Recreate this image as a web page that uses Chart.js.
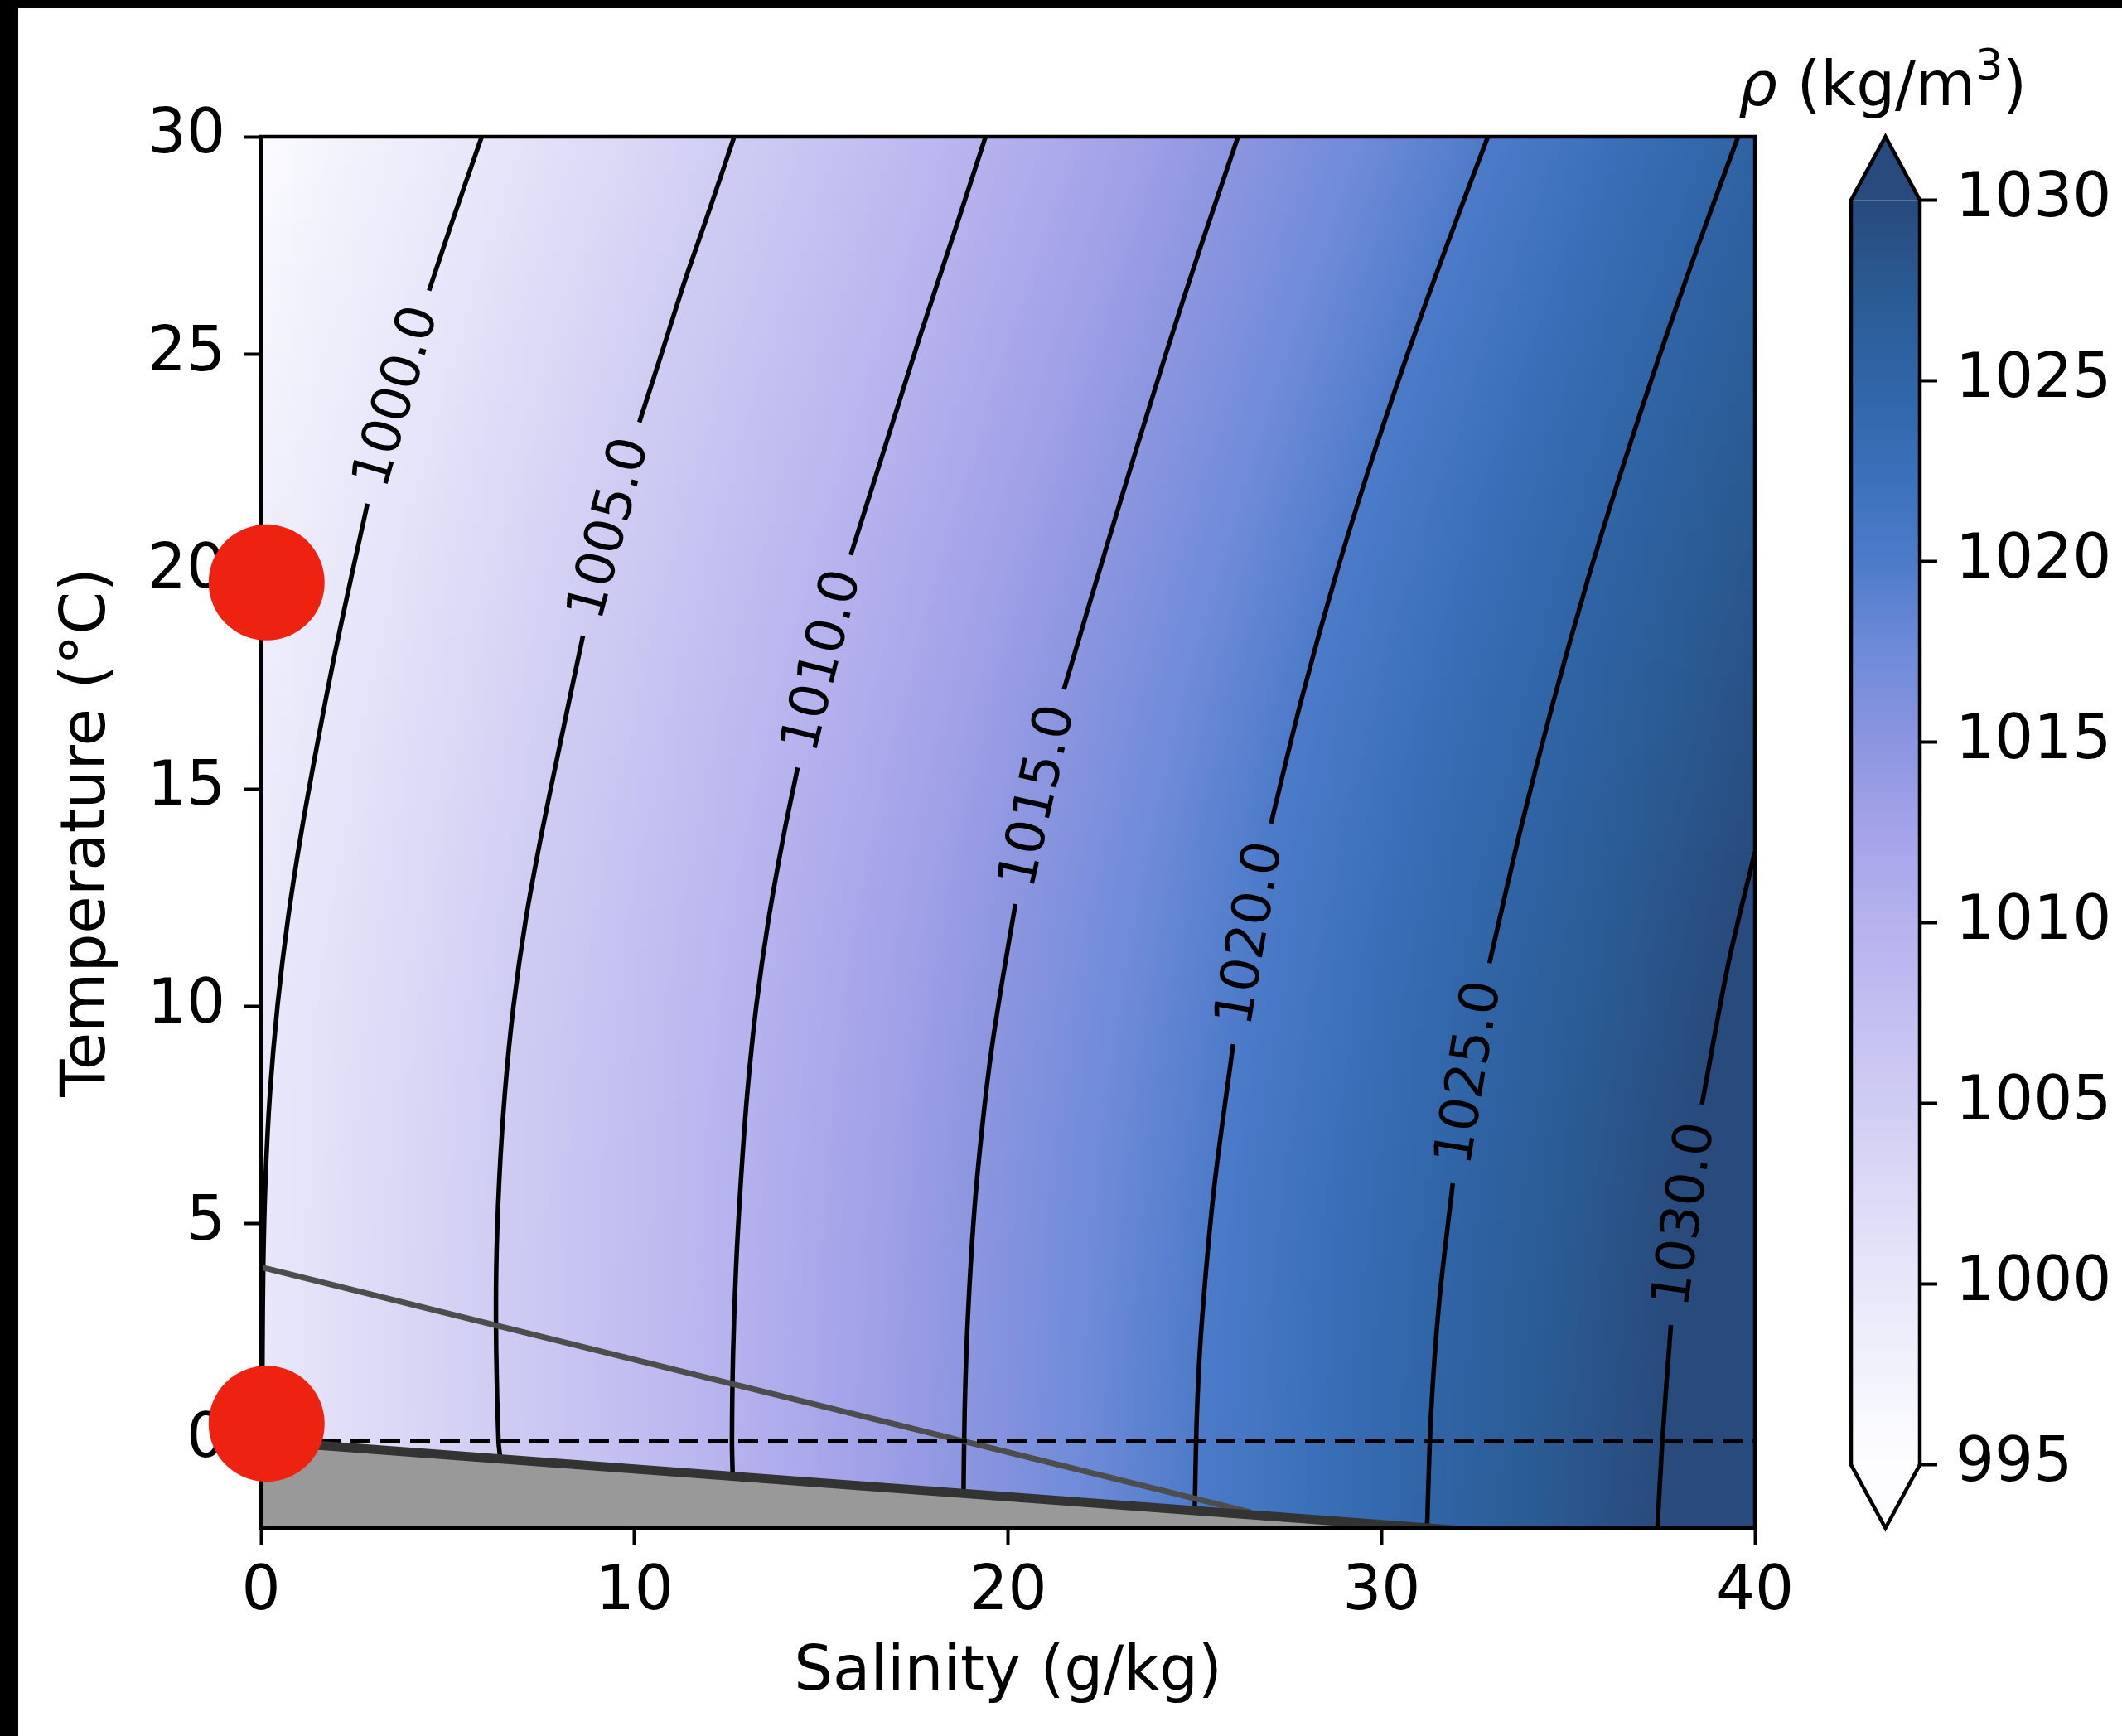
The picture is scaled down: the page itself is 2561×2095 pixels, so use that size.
<!DOCTYPE html>
<html>
<head>
<meta charset="utf-8">
<script src="https://cdn.jsdelivr.net/npm/chart.js@4.4.1/dist/chart.umd.min.js"></script>
<style>
  html, body { margin: 0; padding: 0; background: #fff; width: 2561px; height: 2095px; overflow: hidden; }
  #main { position: absolute; left: 0; top: 0; }
  #cbar { position: absolute; left: 2232px; top: 0; }
  .edge { position: absolute; background: #000; }
</style>
</head>
<body>
<canvas id="main" width="2561" height="2095"></canvas>
<canvas id="cbar" width="329" height="2095"></canvas>
<div class="edge" style="left:0;top:0;width:2561px;height:10px"></div>
<div class="edge" style="left:0;top:0;width:22px;height:2095px"></div>
<script>
// ---- values ----
const xTicks = [0, 10, 20, 30, 40];
const yTicks = [0, 5, 10, 15, 20, 25, 30];
const cbarTicks = [995, 1000, 1005, 1010, 1015, 1020, 1025, 1030];

// density contour levels and their paths as [salinity, temperature];
// null marks the gap where the inline label sits
const levels = [1000, 1005, 1010, 1015, 1020, 1025, 1030];
const c1000 = [[5.91, 30], [5.1, 28], [4.50, 26.46], null, [2.85, 21.56], [2.45, 20], [1.95, 18], [1.5, 16],
  [1.08, 14], [0.72, 12], [0.44, 10], [0.24, 8], [0.12, 6], [0.06, 4], [0.04, 2], [0.03, 0]];
const c1005 = [[12.67, 30], [12.0, 28.3], [11.35, 26.69], [10.72, 25], [10.13, 23.43], null, [8.62, 18.52],
  [8.0, 16], [7.52, 14], [7.09, 12], [6.76, 10], [6.53, 8], [6.38, 6], [6.30, 4], [6.30, 2], [6.36, 0], [6.41, -0.41]];
const c1010 = [[19.4, 30], [18.64, 28], [17.66, 25.45], [16.72, 22.9], [15.79, 20.38], null, [14.37, 15.49],
  [14.01, 14], [13.59, 12], [13.26, 10], [13.02, 8], [12.85, 6], [12.72, 4], [12.64, 2], [12.61, 0], [12.63, -0.81]];
const c1015 = [[26.16, 30], [25.17, 27.5], [24.2, 24.93], [22.72, 20.8], [21.5, 17.29], null, [20.2, 12.35],
  [19.87, 10.7], [19.56, 9], [19.33, 7.38], [19.1, 5.31], [18.92, 2.73], [18.84, 0.66], [18.81, -1.2]];
const c1020 = [[32.85, 30], [31.75, 27.5], [30.67, 24.93], [29.64, 22.3], [28.73, 19.77], [27.84, 17], [27.04, 14.2], null,
  [26.03, 9.13], [25.52, 5.83], [25.19, 2.73], [25.06, 0.66], [25.0, -1.6]];
const c1025 = [[39.55, 30], [38.48, 27.5], [37.43, 24.93], [36.42, 22.3], [35.51, 19.77], [34.6, 17], [33.73, 14.09],
  [32.89, 10.99], null, [31.91, 5.93], [31.55, 3.24], [31.33, 0.66], [31.22, -2.0]];
const c1030 = [[40.0, 13.55], [39.29, 10.99], [38.58, 7.74], null, [37.75, 2.67], [37.52, 0.0], [37.39, -2.0]];
const contours = [c1000, c1005, c1010, c1015, c1020, c1025, c1030];

const freezeLine = [[0, 0], [10, -0.64], [20, -1.28], [30, -1.92], [35, -2.24]];
const maxDensLine = [[0, 4.0], [26.5, -1.64]];
const zeroLine = [[0, 0], [40, 0]];
const samples = [[0.15, 19.75], [0.15, 0.4]];

// colormap sampled along the colorbar
const cmapValues = [995, 997.5, 1000, 1002.5, 1005, 1007.5, 1010, 1012.5, 1015, 1017.5, 1020, 1022.5, 1025, 1027.5, 1030];
const cmapColors = ['#fdfdff', '#f2f2fc', '#e8e7fa', '#dcdaf6', '#cfccf3', '#c3bff1', '#b6b2ee', '#a5a3e9',
  '#8c95e0', '#6f8bd9', '#4d7bc9', '#3a70b9', '#2f64a6', '#2a5a92', '#284a7c'];

const FONT = "'DejaVu Sans', sans-serif";

// --- helpers ---
const toXY = arr => arr.map(p => p ? { x: p[0], y: p[1] } : { x: null, y: null });

function hexRgb(h) {
  return [parseInt(h.slice(1, 3), 16), parseInt(h.slice(3, 5), 16), parseInt(h.slice(5, 7), 16)];
}
const cmapRgb = cmapColors.map(hexRgb);

function cmap(v) {
  if (v <= cmapValues[0]) return cmapColors[0];
  const n = cmapValues.length;
  if (v >= cmapValues[n - 1]) return cmapColors[n - 1];
  let i = 0;
  while (v > cmapValues[i + 1]) i++;
  const f = (v - cmapValues[i]) / (cmapValues[i + 1] - cmapValues[i]);
  const a = cmapRgb[i], b = cmapRgb[i + 1];
  const c = a.map((q, k) => Math.round(q + (b[k] - q) * f));
  return `rgb(${c[0]},${c[1]},${c[2]})`;
}

// salinity where a contour path crosses temperature t (gaps bridged)
function crossing(path, t) {
  const pts = path.filter(p => p);
  for (let i = 0; i < pts.length - 1; i++) {
    const [s0, t0] = pts[i], [s1, t1] = pts[i + 1];
    if (t0 === t1) continue;
    if ((t - t0) * (t - t1) <= 0) return s0 + (s1 - s0) * (t - t0) / (t1 - t0);
  }
  return null;
}

// --- background density field, shaded row by row between contour crossings ---
const densityField = {
  id: 'densityField',
  beforeDatasetsDraw(chart) {
    const { ctx, chartArea: a, scales: { x, y } } = chart;
    const w = a.right - a.left;
    ctx.save();
    ctx.beginPath();
    ctx.rect(a.left, a.top, w, a.bottom - a.top);
    ctx.clip();
    const step = 2;
    let prev = null;
    for (let py = a.top; py < a.bottom; py += step) {
      const t = y.getValueForPixel(py + step / 2);
      let knots = [];
      contours.forEach((c, i) => {
        const s = crossing(c, t);
        if (s !== null) knots.push([s, levels[i]]);
      });
      if (knots.length < 2) knots = prev;   // below the last contour ends: reuse the row above
      if (!knots) continue;
      prev = knots;
      knots.sort((p, q) => p[0] - q[0]);
      const sMin = x.min, sMax = x.max;
      const [a0, a1] = knots;
      const vLeft = a0[1] - (a1[1] - a0[1]) / (a1[0] - a0[0]) * (a0[0] - sMin);
      const b1 = knots[knots.length - 1], b0 = knots[knots.length - 2];
      const vRight = b1[1] + (b1[1] - b0[1]) / (b1[0] - b0[0]) * (sMax - b1[0]);
      const all = [[sMin, vLeft], ...knots, [sMax, vRight]];
      const g = ctx.createLinearGradient(a.left, 0, a.right, 0);
      let last = -1;
      for (let k = 0; k < all.length - 1; k++) {
        const [s0, v0] = all[k], [s1, v1] = all[k + 1];
        const n = 8;
        for (let j = 0; j <= n; j++) {
          const s = s0 + (s1 - s0) * j / n;
          const v = v0 + (v1 - v0) * j / n;
          let off = (x.getPixelForValue(s) - a.left) / w;
          off = Math.min(1, Math.max(0, off));
          if (off < last) continue;
          last = off;
          g.addColorStop(off, cmap(v));
        }
      }
      ctx.fillStyle = g;
      ctx.fillRect(a.left, py, w, step);
    }
    ctx.restore();
  }
};

// --- contour labels + axes frame, drawn just under the red markers ---
const overlay = {
  id: 'overlay',
  afterDatasetDraw(chart, args) {
    if (args.index !== 1) return;
    const { ctx, chartArea: a, scales: { x, y } } = chart;
    ctx.save();
    ctx.fillStyle = '#000';
    ctx.font = `64px ${FONT}`;
    ctx.textAlign = 'center';
    ctx.textBaseline = 'middle';
    contours.forEach((c, i) => {
      const g = c.indexOf(null);
      if (g < 1) return;
      const p0 = c[g - 1], p1 = c[g + 1];
      const x0 = x.getPixelForValue(p0[0]), y0 = y.getPixelForValue(p0[1]);
      const x1 = x.getPixelForValue(p1[0]), y1 = y.getPixelForValue(p1[1]);
      let ang = Math.atan2(y1 - y0, x1 - x0);
      if (ang > Math.PI / 2) ang -= Math.PI;
      if (ang < -Math.PI / 2) ang += Math.PI;
      ctx.save();
      ctx.translate((x0 + x1) / 2, (y0 + y1) / 2);
      ctx.rotate(ang);
      ctx.fillText(levels[i].toFixed(1), 0, 0);
      ctx.restore();
    });
    ctx.strokeStyle = '#000';
    ctx.lineWidth = 4.5;
    ctx.strokeRect(a.left, a.top, a.right - a.left, a.bottom - a.top);
    ctx.restore();
  },
  afterDraw(chart) {
    // colorbar title: rho (kg/m^3)
    const ctx = chart.ctx;
    ctx.save();
    ctx.fillStyle = '#000';
    ctx.textBaseline = 'alphabetic';
    ctx.textAlign = 'left';
    const parts = [
      ['ρ', `italic 74px ${FONT}`, 0],
      [' (kg/m', `74px ${FONT}`, 0],
      ['3', `52px ${FONT}`, -31],
      [')', `74px ${FONT}`, 0]
    ];
    let total = 0;
    parts.forEach(p => { ctx.font = p[1]; total += ctx.measureText(p[0]).width; });
    let cx = 2272 - total / 2;
    parts.forEach(p => {
      ctx.font = p[1];
      ctx.fillText(p[0], cx, 127 + p[2]);
      cx += ctx.measureText(p[0]).width;
    });
    ctx.restore();
  }
};

const tickFont = { family: FONT, size: 74 };

const datasets = [
  { label: 'samples', data: toXY(samples), showLine: false, pointRadius: 70, pointHoverRadius: 70,
    pointBackgroundColor: '#ee2211', pointBorderWidth: 0, clip: false, order: 0 },
  { label: 'freezing', data: toXY(freezeLine), borderColor: '#333333', borderWidth: 11,
    backgroundColor: '#999999', fill: 'start', pointRadius: 0, clip: 0, order: 1 },
  { label: 'zero', data: toXY(zeroLine), borderColor: '#000', borderWidth: 5.5, borderDash: [24, 12],
    pointRadius: 0, fill: false, clip: 0, order: 2 },
  { label: 'maxDensity', data: toXY(maxDensLine), borderColor: '#4d4d4d', borderWidth: 7,
    pointRadius: 0, fill: false, clip: 0, order: 3 },
  ...contours.map((c, i) => ({
    label: String(levels[i]), data: toXY(c), borderColor: '#000', borderWidth: 5.5,
    pointRadius: 0, fill: false, tension: 0.3, spanGaps: false, clip: 0, order: 4
  }))
];

new Chart(document.getElementById('main'), {
  type: 'line',
  data: { datasets },
  options: {
    responsive: false,
    animation: false,
    devicePixelRatio: 1,
    events: [],
    layout: { padding: { left: 0, top: 165, right: 443, bottom: 0 } },
    plugins: { legend: { display: false }, tooltip: { enabled: false } },
    scales: {
      x: {
        type: 'linear', min: 0, max: 40,
        afterBuildTicks: s => { s.ticks = xTicks.map(v => ({ value: v })); },
        afterFit: s => { s.height = 251; },
        grid: { drawOnChartArea: false, tickLength: 20, tickWidth: 4, tickColor: '#000' },
        border: { color: '#000', width: 4.5 },
        ticks: { color: '#000', font: tickFont, padding: 14, maxRotation: 0, autoSkip: false },
        title: { display: true, text: 'Salinity (g/kg)', color: '#000', font: tickFont, padding: { top: 0, bottom: 31 } }
      },
      y: {
        type: 'linear', min: -2, max: 30,
        afterBuildTicks: s => { s.ticks = yTicks.map(v => ({ value: v })); },
        afterFit: s => { s.width = 315; },
        grid: { drawOnChartArea: false, tickLength: 20, tickWidth: 4, tickColor: '#000' },
        border: { color: '#000', width: 4.5 },
        ticks: { color: '#000', font: tickFont, padding: 23, autoSkip: false },
        title: { display: true, text: 'Temperature (°C)', color: '#000', font: tickFont, padding: { top: 62, bottom: 0 } }
      }
    }
  },
  plugins: [densityField, overlay]
});

// --- colorbar: its own small chart so the value axis sits beside the bar ---
const colorbarFill = {
  id: 'colorbarFill',
  beforeDatasetsDraw(chart) {
    const { ctx, chartArea: a, scales: { y } } = chart;
    const vLo = cmapValues[0], vHi = cmapValues[cmapValues.length - 1];
    const top = y.getPixelForValue(vHi), bot = y.getPixelForValue(vLo);
    const tipTop = y.getPixelForValue(y.max), tipBot = y.getPixelForValue(y.min);
    const L = a.left + 2, R = a.right, mid = (L + R) / 2;
    ctx.save();
    const g = ctx.createLinearGradient(0, bot, 0, top);
    cmapValues.forEach((v, i) => g.addColorStop((v - vLo) / (vHi - vLo), cmapColors[i]));
    ctx.fillStyle = g;
    ctx.fillRect(L, top, R - L, bot - top);
    ctx.fillStyle = cmapColors[cmapColors.length - 1];
    ctx.beginPath(); ctx.moveTo(L, top); ctx.lineTo(mid, tipTop); ctx.lineTo(R, top); ctx.closePath(); ctx.fill();
    ctx.fillStyle = cmapColors[0];
    ctx.beginPath(); ctx.moveTo(L, bot); ctx.lineTo(mid, tipBot); ctx.lineTo(R, bot); ctx.closePath(); ctx.fill();
    ctx.strokeStyle = '#000';
    ctx.lineWidth = 4.5;
    ctx.lineJoin = 'miter';
    ctx.beginPath();
    ctx.moveTo(L, top); ctx.lineTo(mid, tipTop); ctx.lineTo(R, top);
    ctx.lineTo(R, bot); ctx.lineTo(mid, tipBot); ctx.lineTo(L, bot);
    ctx.closePath();
    ctx.stroke();
    ctx.restore();
  }
};

const ext = (cbarTicks[cbarTicks.length - 1] - cbarTicks[0]) * 0.05;
new Chart(document.getElementById('cbar'), {
  type: 'bar',
  data: { labels: [''], datasets: [] },
  options: {
    responsive: false,
    animation: false,
    devicePixelRatio: 1,
    events: [],
    layout: { padding: { left: 0, top: 165, right: 0, bottom: 251 } },
    plugins: { legend: { display: false }, tooltip: { enabled: false } },
    scales: {
      x: { display: false },
      y: {
        position: 'right',
        min: cbarTicks[0] - ext, max: cbarTicks[cbarTicks.length - 1] + ext,
        afterBuildTicks: s => { s.ticks = cbarTicks.map(v => ({ value: v })); },
        afterFit: s => { s.width = 244; },
        grid: { drawOnChartArea: false, tickLength: 21, tickWidth: 4, tickColor: '#000' },
        border: { display: false },
        ticks: { color: '#000', font: tickFont, padding: 22, autoSkip: false, callback: v => String(v) }
      }
    }
  },
  plugins: [colorbarFill]
});
</script>
</body>
</html>
